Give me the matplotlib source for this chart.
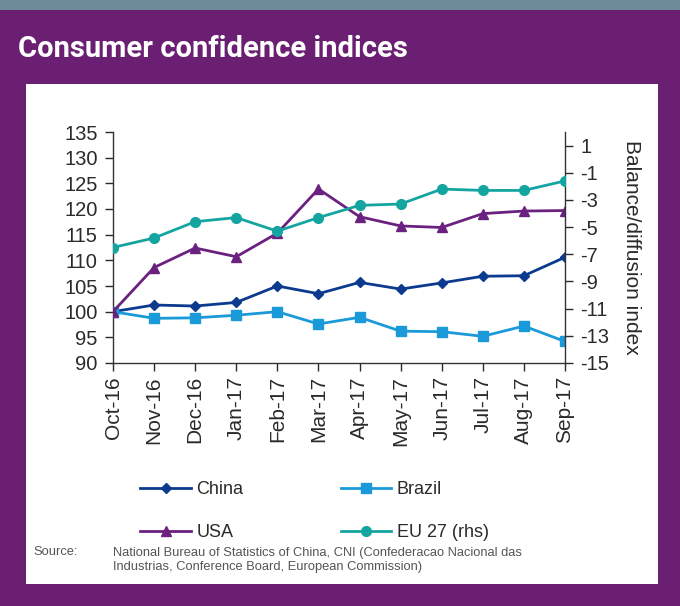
import matplotlib.pyplot as plt
from matplotlib.patches import Rectangle

# Monthly index values (Oct-16 .. Sep-17)
months = ["Oct-16", "Nov-16", "Dec-16", "Jan-17", "Feb-17", "Mar-17",
          "Apr-17", "May-17", "Jun-17", "Jul-17", "Aug-17", "Sep-17"]
china = [100.0, 101.3, 101.1, 101.8, 105.0, 103.5, 105.7, 104.4, 105.6, 106.9, 107.0, 110.6]
brazil = [100.0, 98.7, 98.8, 99.3, 100.0, 97.6, 98.9, 96.2, 96.1, 95.2, 97.2, 94.2]
usa = [100.0, 108.6, 112.4, 110.7, 115.3, 123.9, 118.5, 116.7, 116.4, 119.1, 119.6, 119.7]
eu27 = [-6.5, -5.8, -4.6, -4.3, -5.3, -4.3, -3.4, -3.3, -2.2, -2.3, -2.3, -1.6]

left_ticks = list(range(90, 136, 5))
right_ticks = list(range(-15, 2, 2))

purple = "#6B1F73"
c_china = "#0B3A8E"
c_brazil = "#1A9AD8"
c_usa = "#6B2180"
c_eu = "#14A5A0"
txt = "#2a2a2a"

plt.rcParams["font.family"] = ["Liberation Sans", "DejaVu Sans"]
plt.rcParams["axes.unicode_minus"] = False

fig = plt.figure(figsize=(6.8, 6.06), dpi=100)
fig.patch.set_facecolor(purple)
# top strip and white panel (behind the axes)
fig.patches.append(Rectangle((0, 1 - 10 / 606), 1, 10 / 606, transform=fig.transFigure,
                             facecolor="#6C8C99", edgecolor="none", zorder=-2))
fig.patches.append(Rectangle((26 / 680, 1 - 584 / 606), (658 - 26) / 680, (584 - 84) / 606,
                             transform=fig.transFigure, facecolor="white", edgecolor="none", zorder=-2))

fig.text(18 / 680, 1 - 49 / 606, "Consumer confidence indices", color="white",
         fontsize=21, fontweight="bold", va="center", ha="left", family="Roboto")

ax = fig.add_axes([113 / 680, 1 - 363 / 606, (565 - 113) / 680, (363 - 132) / 606])
ax2 = ax.twinx()
x = list(range(len(months)))

l1, = ax.plot(x, china, color=c_china, marker="D", markersize=5, lw=2, label="China", zorder=3)
l2, = ax.plot(x, brazil, color=c_brazil, marker="s", markersize=7, lw=2, label="Brazil", zorder=3)
l3, = ax.plot(x, usa, color=c_usa, marker="^", markersize=7, lw=2, label="USA", zorder=3)
l4, = ax2.plot(x, eu27, color=c_eu, marker="o", markersize=7, lw=2, label="EU 27 (rhs)", zorder=3)

ax.set_xlim(0, len(months) - 1)
ax.set_ylim(90, 135)
ax.set_yticks(left_ticks)
ax2.set_ylim(-15, 2)
ax2.set_yticks(right_ticks)
ax.set_xticks(x)
ax.set_xticklabels(months, rotation=90)

for a in (ax, ax2):
    a.patch.set_alpha(0)
    a.spines["top"].set_visible(False)
    for s in a.spines.values():
        s.set_color("#333333")
        s.set_linewidth(1)
    a.tick_params(colors=txt, labelsize=14.5, direction="out", length=6, width=1)
ax.tick_params(axis="y", pad=5)
ax2.tick_params(axis="y", pad=5)
ax.tick_params(axis="x", labelsize=15)
ax.spines["right"].set_visible(False)
ax2.spines["left"].set_visible(False)
ax2.spines["bottom"].set_visible(False)

ax2.set_ylabel("Balance/diffusion index", rotation=270, fontsize=15, color=txt)
ax2.yaxis.set_label_coords(1.168, 0.5)

fig.legend(handles=[l1, l3, l2, l4], labels=["China", "USA", "Brazil", "EU 27 (rhs)"],
           ncol=2, loc="upper left", bbox_to_anchor=(124 / 680, 1 - 465 / 606),
           frameon=False, fontsize=13, handlelength=2.8, handletextpad=0.3,
           columnspacing=5.4, labelspacing=1.45, labelcolor=txt)

fig.text(33 / 680, 1 - 552 / 606, "Source:", fontsize=9.3, color="#555555", va="center")
fig.text(113 / 680, 1 - 560 / 606,
         "National Bureau of Statistics of China, CNI (Confederacao Nacional das\n"
         "Industrias, Conference Board, European Commission)",
         fontsize=9.3, color="#555555", va="center", linespacing=1.25)

fig.savefig("out.png", dpi=100, facecolor=fig.get_facecolor())
